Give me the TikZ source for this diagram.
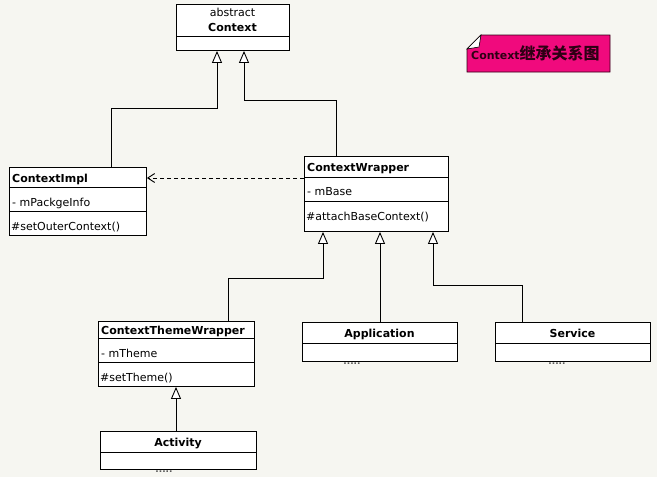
\documentclass[tikz,border=0pt]{standalone}
\usepackage{fontspec}
\setmainfont{DejaVu Sans}
\newfontfamily\cjk{Noto Sans CJK SC}
\usetikzlibrary{arrows.meta,calc}
\definecolor{bg}{RGB}{246,246,241}
\definecolor{notepink}{RGB}{240,10,125}
\definecolor{notetext}{RGB}{45,0,20}
\tikzset{
  box/.style={draw=black, fill=white, line width=0.9pt, inner sep=0pt, anchor=north west},
  divline/.style={line width=0.9pt},
  lbl/.style={inner sep=0pt, anchor=base west, font=\fontsize{11}{13}\selectfont},
  blbl/.style={lbl, font=\fontsize{11}{13}\selectfont\bfseries},
  cbl/.style={inner sep=0pt, anchor=base, font=\fontsize{11}{13}\selectfont\bfseries},
  dots/.style={inner sep=0pt, anchor=base, text=black!65, font=\fontsize{9}{10}\selectfont\bfseries},
  inh/.style={line width=0.9pt, -{Triangle[width=10pt,length=12pt,fill=white,line width=0.9pt]}},
  dep/.style={line width=0.9pt, dash pattern=on 4pt off 3pt, -{Straight Barb[length=7pt,width=9pt,line width=0.9pt]}},
}
\begin{document}
\begin{tikzpicture}[x=1pt,y=-1pt]
\path[fill=bg] (0,0) rectangle (657,477);
\useasboundingbox (0,0) rectangle (657,477);

% Context
\node[box, minimum width=113pt, minimum height=46pt] (ctx) at (176,4) {};
\draw[divline] (176,36) -- (289,36);
\node[inner sep=0pt, anchor=base, font=\fontsize{11}{13}\selectfont] (ctxa) at (232.5,16) {abstract};
\node[cbl] (ctxn) at (232.5,31) {Context};

% ContextImpl
\node[box, minimum width=137pt, minimum height=68pt] (impl) at (9,167) {};
\draw[divline] (9,187) -- (146,187);
\draw[divline] (9,211) -- (146,211);
\node[blbl] (impln) at (12,182) {ContextImpl};
\node[lbl] (impla) at (12,206) {- mPackgeInfo};
\node[lbl] (implm) at (11,230) {\#setOuterContext()};

% ContextWrapper
\node[box, minimum width=144pt, minimum height=75pt] (cw) at (304,156) {};
\draw[divline] (304,177) -- (448,177);
\draw[divline] (304,201) -- (448,201);
\node[blbl] (cwn) at (307,171) {ContextWrapper};
\node[lbl] (cwa) at (307,195) {- mBase};
\node[lbl] (cwm) at (306,220) {\#attachBaseContext()};

% ContextThemeWrapper
\node[box, minimum width=156pt, minimum height=65pt] (ctw) at (98,321) {};
\draw[divline] (98,338) -- (254,338);
\draw[divline] (98,362) -- (254,362);
\node[blbl] (ctwn) at (101,334) {ContextThemeWrapper};
\node[lbl] (ctwa) at (101,357) {- mTheme};
\node[lbl] (ctwm) at (100,381) {\#setTheme()};

% Application
\node[box, minimum width=155pt, minimum height=39pt] (app) at (302,322) {};
\draw[divline] (302,343) -- (457,343);
\node[cbl] (appn) at (379.5,337) {Application};
\node[dots] (appd) at (352,364) {.....};

% Service
\node[box, minimum width=155pt, minimum height=39pt] (svc) at (495,322) {};
\draw[divline] (495,343) -- (650,343);
\node[cbl] (svcn) at (572.5,337) {Service};
\node[dots] (svcd) at (557,364) {.....};

% Activity
\node[box, minimum width=156pt, minimum height=38pt] (act) at (100,431) {};
\draw[divline] (100,452) -- (256,452);
\node[cbl] (actn) at (178,446) {Activity};
\node[dots] (actd) at (164,472) {.....};

% Note
\draw[line width=0.9pt, draw=notetext, fill=notepink] (467,49) -- (481,35) -- (610,35) -- (610,72) -- (467,72) -- cycle;
\draw[line width=0.6pt, fill=white] (467,49) -- (481,35) -- (479,47) -- cycle;
\node[inner sep=0pt, anchor=base west, text=notetext, font=\fontsize{11}{13}\selectfont\bfseries] (note) at (471,59) {Context{\cjk\fontsize{16}{18}\selectfont 继承关系图}};

% Inheritance
\draw[inh] ([xshift=102pt]impl.north west) -- (111,108) -- (217,108) -- ([xshift=41pt]ctx.south west);
\draw[inh] ([xshift=32pt]cw.north west) -- (336,100) -- (244,100) -- ([xshift=68pt]ctx.south west);
\draw[inh] ([xshift=130pt]ctw.north west) -- (228,278) -- (323,278) -- ([xshift=19pt]cw.south west);
\draw[inh] ([xshift=78pt]app.north west) -- ([xshift=76pt]cw.south west);
\draw[inh] ([xshift=27pt]svc.north west) -- (522,285) -- (433,285) -- ([xshift=129pt]cw.south west);
\draw[inh] ([xshift=76pt]act.north west) -- ([xshift=78pt]ctw.south west);

% Dependency
\draw[dep] ([yshift=-22pt]cw.north west) -- ([yshift=-11pt]impl.north east);
\end{tikzpicture}
\end{document}
